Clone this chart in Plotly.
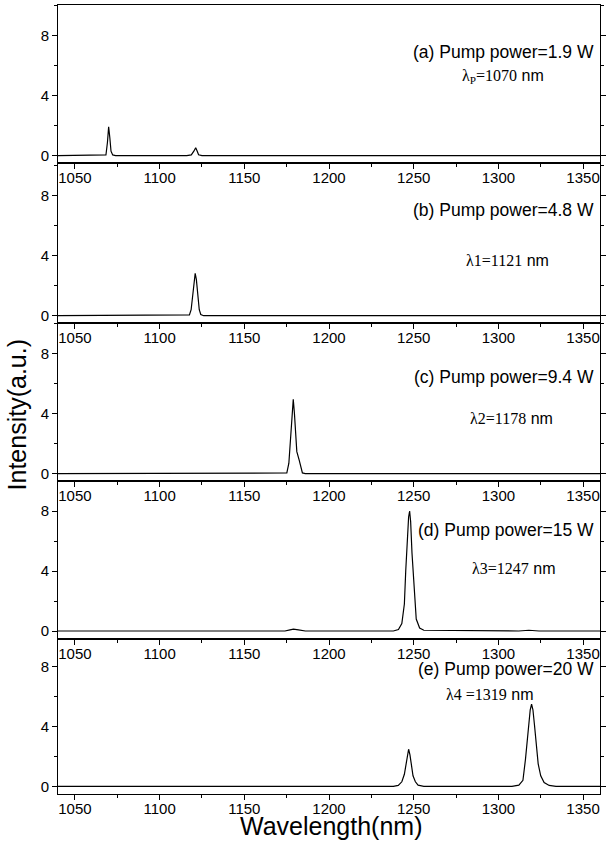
import plotly.graph_objects as go

# ---------------- data ----------------
wl_a = [1040, 1066, 1068.3, 1069.2, 1069.9, 1070.6, 1071.3, 1072.3, 1074,
        1116, 1118.7, 1120.2, 1121.3, 1122.2, 1123, 1125, 1360]
int_a = [0, 0, 0.05, 0.9, 1.93, 1.2, 0.3, 0.05, 0,
         0, 0.05, 0.3, 0.53, 0.3, 0.06, 0, 0]

wl_b = [1040, 1116, 1117.6, 1118.6, 1119.5, 1120.3, 1121.0, 1121.7, 1122.5,
        1123.4, 1124.3, 1126, 1360]
int_b = [0, 0, 0.05, 0.4, 1.4, 2.4, 2.83, 2.4, 1.3, 0.4, 0.08, 0, 0]

wl_c = [1040, 1174, 1175.1, 1176.3, 1177.3, 1178.2, 1178.9, 1179.6, 1180.3,
        1181.0, 1182.4, 1183.3, 1184.3, 1186, 1360]
int_c = [0, 0, 0.05, 0.7, 2.5, 4.3, 4.96, 4.0, 2.3, 1.47, 0.9, 0.4, 0.05, 0, 0]

wl_d = [1040, 1174, 1177, 1179, 1182, 1186, 1238, 1241, 1243, 1244.5, 1245.3,
        1246.3, 1247.0, 1247.6, 1248.2, 1249.0, 1249.6, 1250.5, 1251.5, 1253.5,
        1256, 1312, 1318, 1324, 1360]
int_d = [0, 0, 0.08, 0.13, 0.08, 0, 0, 0.1, 0.5, 1.8, 4.0,
         6.3, 7.6, 8.0, 7.3, 5.2, 4.0, 2.0, 0.8, 0.2,
         0.05, 0, 0.05, 0, 0]

wl_e = [1040, 1238, 1240.9, 1243, 1244.5, 1245.3, 1246.2, 1247.0, 1247.8, 1248.7,
        1249.6, 1251, 1252.6, 1256, 1308, 1312.1, 1314.5, 1316, 1317, 1318,
        1318.8, 1319.6, 1320.4, 1321.3, 1322.2, 1323.5, 1325, 1327, 1330, 1334, 1360]
int_e = [0, 0, 0.06, 0.3, 0.8, 1.35, 2.1, 2.47, 2.1, 1.3,
         0.7, 0.3, 0.08, 0, 0, 0.08, 0.4, 1.8, 3.0, 4.3,
         5.1, 5.47, 5.1, 4.1, 2.8, 1.5, 0.7, 0.25, 0.06, 0, 0]

panel_titles = ["(a) Pump power=1.9 W", "(b) Pump power=4.8 W",
                "(c) Pump power=9.4 W", "(d) Pump power=15 W",
                "(e) Pump power=20 W"]
lambda_names = ["λ<sub>P</sub>=1070", "λ1=1121", "λ2=1178", "λ3=1247", "λ4 =1319"]

x_tick_step = 50
y_tick_step = 4

# ---------------- layout helpers ----------------
W, H = 607, 842
ML, MR, MT, MB = 58, 1, 5, 48
plot_h = H - MT - MB
PX_PER_UNIT = 15.0


def fy(px):
    return (H - MB - px) / plot_h


def fx(px):
    return (px - ML) / (W - ML - MR)


# pixel row of the y=0 line of each panel, and panel top/bottom rows
zero_px = [155.7, 315.7, 473.7, 631.0, 786.3]
bottom_px = [z + 0.5 * PX_PER_UNIT for z in zero_px]
top_px = [5.3] + bottom_px[:-1]

title_pos = [(1357.5, 6.93), (1357.5, 7.05), (1357.5, 6.47), (1357.5, 6.73), (1357.5, 7.82)]
lam_pos = [(1302.5, 5.25), (1305.5, 3.65), (1307.9, 3.69), (1309.2, 4.18), (1294.9, 6.09)]

series = [(wl_a, int_a), (wl_b, int_b), (wl_c, int_c), (wl_d, int_d), (wl_e, int_e)]

SANS = "Liberation Sans, Arial, sans-serif"
SERIF = "Liberation Serif"

fig = go.Figure()
annotations = []
layout = {}
for i, (xs, ys) in enumerate(series):
    n = i + 1
    xa = "x" if n == 1 else f"x{n}"
    ya = "y" if n == 1 else f"y{n}"
    fig.add_trace(go.Scatter(x=xs, y=ys, mode="lines", xaxis=xa, yaxis=ya,
                             line=dict(color="black", width=1.2), showlegend=False,
                             hoverinfo="skip"))
    top, bot = top_px[i], bottom_px[i]
    ymax = (zero_px[i] - top) / PX_PER_UNIT
    layout[f"xaxis{'' if n == 1 else n}"] = dict(
        domain=[0, 1], anchor=ya, range=[1040, 1360],
        tickmode="linear", tick0=1000, dtick=x_tick_step,
        ticks="outside", ticklen=5, tickwidth=1, tickcolor="black",
        minor=dict(dtick=25, tick0=1025, ticks="outside", ticklen=3, tickcolor="black"),
        showline=True, linecolor="black", linewidth=1, mirror=True,
        showgrid=False, zeroline=False, ticklabelstandoff=-4,
        tickfont=dict(family=SANS, size=15, color="black"),
    )
    layout[f"yaxis{'' if n == 1 else n}"] = dict(
        domain=[fy(bot), fy(top)], anchor=xa, range=[-0.5, ymax],
        tickmode="linear", tick0=0, dtick=y_tick_step,
        ticks="outside", ticklen=5, tickwidth=1, tickcolor="black",
        minor=dict(dtick=2, tick0=0, ticks="outside", ticklen=3, tickcolor="black"),
        showline=True, linecolor="black", linewidth=1, mirror="ticks",
        showgrid=False, zeroline=False,
        tickfont=dict(family=SANS, size=15, color="black"),
    )
    tx, ty = title_pos[i]
    annotations.append(dict(x=tx, y=ty, xref=xa, yref=ya, text=panel_titles[i],
                            showarrow=False, xanchor="right", yanchor="middle",
                            font=dict(family=SANS, size=17.5, color="black")))
    lx, ly = lam_pos[i]
    annotations.append(dict(
        x=lx, y=ly, xref=xa, yref=ya,
        text=f'<span style="font-family:{SERIF}">{lambda_names[i]}</span> nm',
        showarrow=False, xanchor="center", yanchor="middle",
        font=dict(family=SANS, size=16, color="black")))

annotations.append(dict(x=fx(334), y=fy(826), xref="paper", yref="paper",
                        text="Wavelength(nm)", showarrow=False,
                        xanchor="center", yanchor="middle",
                        font=dict(family=SANS, size=25, color="black")))
annotations.append(dict(x=fx(17), y=fy(415), xref="paper", yref="paper",
                        text="Intensity(a.u.)", showarrow=False, textangle=-90,
                        xanchor="center", yanchor="middle",
                        font=dict(family=SANS, size=25, color="black")))

fig.update_layout(
    width=W, height=H,
    margin=dict(l=ML, r=MR, t=MT, b=MB, pad=0),
    paper_bgcolor="white", plot_bgcolor="rgba(0,0,0,0)",
    annotations=annotations,
    **layout,
)

fig.write_html("out.html", config={"displayModeBar": False},
               post_script="document.body.style.margin='0';document.body.style.overflow='hidden';")
